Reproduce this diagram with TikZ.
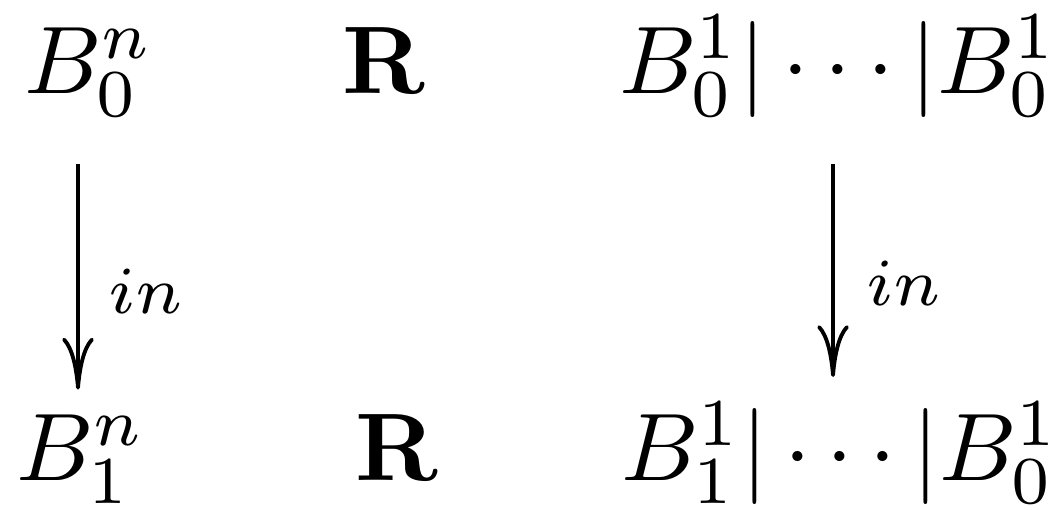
\documentclass[tikz,border=0pt]{standalone}
\usetikzlibrary{arrows.meta}
\begin{document}
\begin{tikzpicture}[x=0.104167pt,y=-0.104167pt,
  obj/.style={inner sep=0pt,outer sep=0pt,anchor=base west},
  mid/.style={inner sep=0pt,outer sep=0pt,anchor=base},
  lbl/.style={inner sep=0pt,outer sep=0pt,anchor=base west},
  mor/.style={line width=0.4pt,-{Computer Modern Rightarrow[length=5.4pt,width=3.3pt]},shorten <=4.9pt,shorten >=2.6pt}]
\useasboundingbox (0,0) rectangle (1053,509);
\node[obj] (a) at (24,93) {$B_0^n$};
\node[mid] (r1) at (384,93) {$\mathbf{R}$};
\node[obj] (c) at (619,93) {$B_0^1|\cdots|B_0^1$};
\node[obj] (b) at (16,480) {$B_1^n$};
\node[mid] (r2) at (397,480) {$\mathbf{R}$};
\node[obj] (d) at (621,480) {$B_1^1|\cdots|B_0^1$};
\coordinate (lx) at (78,0);
\coordinate (rx) at (833,0);
\draw[mor] (a.south -| lx) -- (b.north -| lx);
\draw[mor] (c.south -| rx) -- (d.north -| rx);
\node[lbl] (l1) at (108,313) {$\scriptstyle in$};
\node[lbl] (l2) at (866,305) {$\scriptstyle in$};
\end{tikzpicture}
\end{document}
